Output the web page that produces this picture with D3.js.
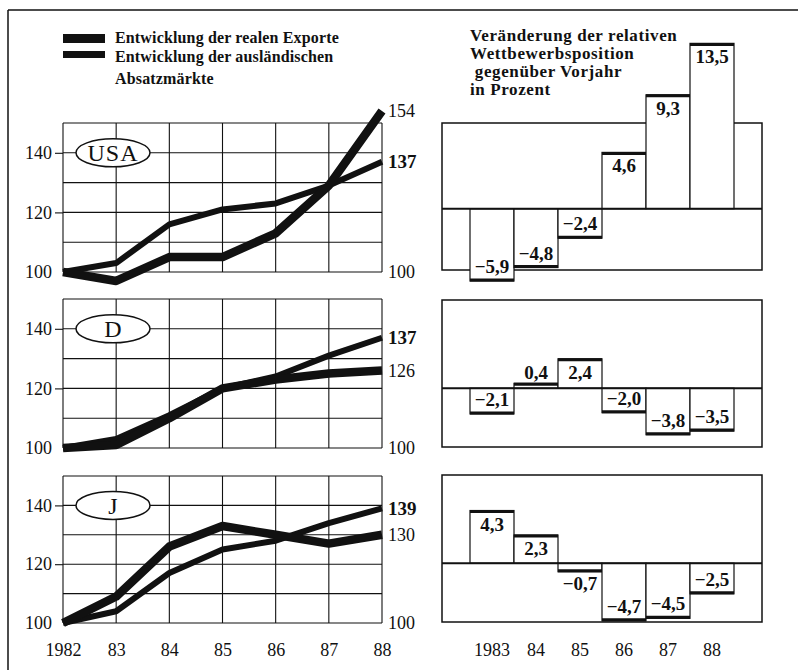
<!DOCTYPE html>
<html>
<head>
<meta charset="utf-8">
<script src="https://cdn.jsdelivr.net/npm/d3@7"></script>
<style>
  html, body { margin: 0; padding: 0; background: #fff; }
  svg { display: block; }
  text { font-family: "Liberation Serif", "Times New Roman", serif; fill: #111; }
</style>
</head>
<body>
<svg id="chart" width="798" height="670"></svg>
<script>
// ---------- data ----------
const years = [1982, 1983, 1984, 1985, 1986, 1987, 1988];
const yearLabels = ["1982", "83", "84", "85", "86", "87", "88"];

const usaExports = [100, 97, 105, 105, 113, 129, 154];
const usaMarkets = [100, 103, 116, 121, 123, 129, 137];
const dExports   = [100, 101, 110, 120, 123, 125, 126];
const dMarkets   = [100, 103, 111, 120, 124, 131, 137];
const jExports   = [100, 109, 126, 133, 130, 127, 130];
const jMarkets   = [100, 104, 117, 125, 128, 134, 139];

const changeYears  = [1983, 1984, 1985, 1986, 1987, 1988];
const changeLabels = ["1983", "84", "85", "86", "87", "88"];
const usaChange = [-5.9, -4.8, -2.4, 4.6, 9.3, 13.5];
const dChange   = [-2.1, 0.4, 2.4, -2.0, -3.8, -3.5];
const jChange   = [4.3, 2.3, -0.7, -4.7, -4.5, -2.5];

const countries = ["USA", "D", "J"];
const legendLabels = ["Entwicklung der realen Exporte", "Entwicklung der ausländischen", "Absatzmärkte"];
const titleLines = ["Veränderung der relativen", "Wettbewerbsposition", " gegenüber Vorjahr", "in Prozent"];
const indexTicks = [100, 120, 140];

// ---------- layout ----------
const svg = d3.select("#chart");
const ink = "#111";

const panels = [
  { name: countries[0], exp: usaExports, mkt: usaMarkets, chg: usaChange, lTop: 123, lBot: 272, rTop: 123, rDom: [-5, 7] },
  { name: countries[1], exp: dExports,   mkt: dMarkets,   chg: dChange,   lTop: 299, lBot: 448, rTop: 300, rDom: [-4.8, 7.2] },
  { name: countries[2], exp: jExports,   mkt: jMarkets,   chg: jChange,   lTop: 476, lBot: 623, rTop: 475, rDom: [-4.8, 7.2] }
];

const x = d3.scalePoint().domain(years).range([63, 382]);
const xb = d3.scaleBand().domain(changeYears).range([470, 734]).padding(0);
const boxL = 442, boxR = 762, boxH = 147;

// outer frame
svg.append("line").attr("x1", 8).attr("x2", 798).attr("y1", 10).attr("y2", 10)
  .attr("stroke", ink).attr("stroke-width", 1.5);
svg.append("line").attr("x1", 8).attr("x2", 8).attr("y1", 10).attr("y2", 670)
  .attr("stroke", ink).attr("stroke-width", 1.5);

// legend
const legend = svg.append("g");
legend.append("rect").attr("x", 63).attr("y", 34).attr("width", 42).attr("height", 9).attr("fill", ink);
legend.append("rect").attr("x", 63).attr("y", 51).attr("width", 42).attr("height", 7).attr("fill", ink);
[43, 62, 84].forEach((yy, i) => {
  legend.append("text").attr("x", 115).attr("y", yy)
    .attr("font-size", 16).attr("font-weight", "bold").attr("letter-spacing", 0.15).text(legendLabels[i]);
});

// right title
titleLines.forEach((t, i) => {
  svg.append("text").attr("x", 470).attr("y", 41 + i * 18)
    .attr("font-size", 17).attr("font-weight", "bold").attr("letter-spacing", 0.6)
    .attr("xml:space", "preserve").style("white-space", "pre").text(t);
});

const fmt = v => (v < 0 ? "\u2212" : "") + Math.abs(v).toFixed(1).replace(".", ",");

panels.forEach((p, pi) => {
  // ---------- left line panel ----------
  const y = d3.scaleLinear().domain([100, 150]).range([p.lBot, p.lTop]);
  const g = svg.append("g");

  // grid
  g.selectAll("line.h").data(d3.range(100, 151, 10)).join("line")
    .attr("x1", x(years[0])).attr("x2", x(years[years.length - 1]))
    .attr("y1", d => y(d)).attr("y2", d => y(d))
    .attr("stroke", ink).attr("stroke-width", 1.1);
  g.selectAll("line.v").data(years).join("line")
    .attr("x1", d => x(d)).attr("x2", d => x(d))
    .attr("y1", y(100)).attr("y2", y(150))
    .attr("stroke", ink).attr("stroke-width", 1.1);

  // left axis
  const ax = g.append("g").attr("transform", `translate(${x(years[0])},0)`)
    .call(d3.axisLeft(y).tickValues(indexTicks).tickSize(8).tickPadding(3).tickFormat(d3.format("d")));
  ax.select(".domain").remove();
  ax.selectAll(".tick line").attr("stroke", ink).attr("stroke-width", 1.1)
    .filter(d => d === 100).remove();
  ax.selectAll(".tick text").attr("font-size", 18)
    .attr("font-family", "Liberation Serif, serif").attr("fill", ink);

  // country ellipse
  g.append("ellipse").attr("cx", 113).attr("cy", y(140)).attr("rx", 37).attr("ry", 14)
    .attr("fill", "#fff").attr("stroke", ink).attr("stroke-width", 1.5);
  g.append("text").attr("x", 113).attr("y", y(140)).attr("dy", "0.36em")
    .attr("text-anchor", "middle").attr("font-size", 24)
    .attr("letter-spacing", p.name === "USA" ? 1 : 0)
    .text(p.name);

  // lines
  const line = d3.line().x((d, i) => x(years[i])).y(d => y(d));
  g.append("path").datum(p.mkt).attr("d", line).attr("fill", "none")
    .attr("stroke", ink).attr("stroke-width", 6).attr("stroke-linejoin", "round");
  g.append("path").datum(p.exp).attr("d", line).attr("fill", "none")
    .attr("stroke", ink).attr("stroke-width", 8.5).attr("stroke-linejoin", "round");

  // end labels
  const lastX = x(years[years.length - 1]) + 6;
  g.append("text").attr("x", lastX).attr("y", y(p.exp[p.exp.length - 1])).attr("dy", "0.35em")
    .attr("font-size", 18).text(p.exp[p.exp.length - 1]);
  g.append("text").attr("x", lastX).attr("y", y(p.mkt[p.mkt.length - 1])).attr("dy", "0.35em")
    .attr("font-size", 19).attr("font-weight", "bold").text(p.mkt[p.mkt.length - 1]);
  g.append("text").attr("x", lastX).attr("y", y(100)).attr("dy", "0.35em")
    .attr("font-size", 18).text("100");

  // ---------- right bar panel ----------
  const yr = d3.scaleLinear().domain(p.rDom).range([p.rTop + boxH, p.rTop]);
  const r = svg.append("g");
  r.append("rect").attr("x", boxL).attr("y", p.rTop).attr("width", boxR - boxL).attr("height", boxH)
    .attr("fill", "#fff").attr("stroke", ink).attr("stroke-width", 1.5);

  const bars = r.selectAll("g.bar").data(p.chg.map((v, i) => ({ v, yr: changeYears[i] }))).join("g");
  bars.append("rect")
    .attr("x", d => xb(d.yr)).attr("width", xb.bandwidth())
    .attr("y", d => Math.min(yr(0), yr(d.v)))
    .attr("height", d => Math.abs(yr(d.v) - yr(0)))
    .attr("fill", "#fff").attr("stroke", ink).attr("stroke-width", 1.2);
  bars.append("line")
    .attr("x1", d => xb(d.yr)).attr("x2", d => xb(d.yr) + xb.bandwidth())
    .attr("y1", d => yr(d.v) + (d.v > 0 ? 1 : -1)).attr("y2", d => yr(d.v) + (d.v > 0 ? 1 : -1))
    .attr("stroke", ink).attr("stroke-width", 3);

  // zero line
  r.append("line").attr("x1", boxL).attr("x2", boxR).attr("y1", yr(0)).attr("y2", yr(0))
    .attr("stroke", ink).attr("stroke-width", 2);

  bars.append("text")
    .attr("x", d => xb(d.yr) + xb.bandwidth() / 2)
    .attr("y", d => {
      const e = yr(d.v);
      if (Math.abs(d.v) < 1) return d.v > 0 ? e - 4 : e + 18;
      return d.v > 0 ? e + 20 : e - 8;
    })
    .attr("text-anchor", "middle").attr("font-size", 19).attr("font-weight", "bold")
    .text(d => fmt(d.v));

  // x labels under last row
  if (pi === panels.length - 1) {
    const xa = svg.append("g").attr("transform", `translate(0,${p.lBot})`)
      .call(d3.axisBottom(x).tickSize(0).tickPadding(20).tickFormat((d, i) => yearLabels[i]));
    xa.select(".domain").remove();
    xa.selectAll(".tick text").attr("font-size", 18).attr("font-family", "Liberation Serif, serif").attr("fill", ink);

    const xr = svg.append("g").attr("transform", `translate(0,${p.lBot})`)
      .call(d3.axisBottom(xb).tickSize(0).tickPadding(20).tickFormat((d, i) => changeLabels[i]));
    xr.select(".domain").remove();
    xr.selectAll(".tick text").attr("font-size", 18).attr("font-family", "Liberation Serif, serif").attr("fill", ink);
  }
});
</script>
</body>
</html>
